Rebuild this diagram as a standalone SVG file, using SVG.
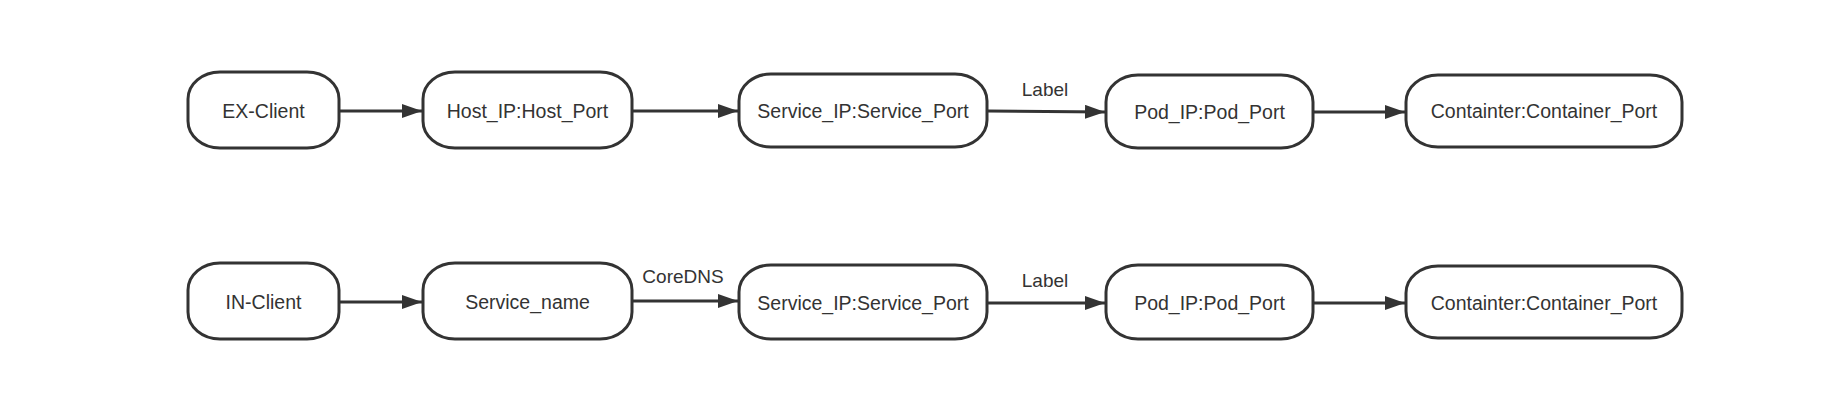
<svg xmlns="http://www.w3.org/2000/svg" width="1832" height="418" viewBox="0 0 1832 418">
<style>
.box{fill:#fff;stroke:#333;stroke-width:3}
.t{font-family:"Liberation Sans",Arial,sans-serif;font-size:19.5px;fill:#333;text-anchor:middle}
.lbl{font-family:"Liberation Sans",Arial,sans-serif;font-size:19px;fill:#333;text-anchor:middle}
.edge{fill:none;stroke:#333;stroke-width:3;marker-end:url(#ah)}
</style>
<defs>
<marker id="ah" markerUnits="userSpaceOnUse" markerWidth="20" markerHeight="14" refX="20" refY="7" orient="auto" viewBox="0 0 20 14">
<path d="M0,0 L20,7 L0,14 z" fill="#333"/>
</marker>
</defs>
<rect width="1832" height="418" fill="#fff"/>
<g id="connectors">
<line class="edge" x1="340" y1="111" x2="422" y2="111"/>
<line class="edge" x1="633" y1="111" x2="738" y2="111"/>
<line class="edge" x1="988" y1="111" x2="1105" y2="112"/>
<line class="edge" x1="1314" y1="112" x2="1405" y2="112"/>
<text class="lbl" x="1045" y="96">Label</text>
<line class="edge" x1="340" y1="302" x2="422" y2="302"/>
<line class="edge" x1="633" y1="301" x2="738" y2="301"/>
<text class="lbl" x="683" y="283">CoreDNS</text>
<line class="edge" x1="988" y1="303" x2="1105" y2="303"/>
<text class="lbl" x="1045" y="287">Label</text>
<line class="edge" x1="1314" y1="303" x2="1405" y2="303"/>
</g>
<g id="ex-client"><rect class="box" x="188" y="72" width="151" height="76" rx="32" ry="27"/><text class="t" x="263.5" y="117.5">EX-Client</text></g>
<g id="host-ip"><rect class="box" x="423" y="72" width="209" height="76" rx="32" ry="27"/><text class="t" x="527.5" y="117.5">Host_IP:Host_Port</text></g>
<g id="service-ip-1"><rect class="box" x="739" y="74" width="248" height="73" rx="32" ry="27"/><text class="t" x="863" y="117.5">Service_IP:Service_Port</text></g>
<g id="pod-ip-1"><rect class="box" x="1106" y="75" width="207" height="73" rx="32" ry="27"/><text class="t" x="1209.5" y="118.5">Pod_IP:Pod_Port</text></g>
<g id="container-1"><rect class="box" x="1406" y="75" width="276" height="72" rx="32" ry="27"/><text class="t" x="1544" y="118">Containter:Container_Port</text></g>
<g id="in-client"><rect class="box" x="188" y="263" width="151" height="76" rx="32" ry="27"/><text class="t" x="263.5" y="308.5">IN-Client</text></g>
<g id="service-name"><rect class="box" x="423" y="263" width="209" height="76" rx="32" ry="27"/><text class="t" x="527.5" y="308.5">Service_name</text></g>
<g id="service-ip-2"><rect class="box" x="739" y="265" width="248" height="74" rx="32" ry="27"/><text class="t" x="863" y="309.5">Service_IP:Service_Port</text></g>
<g id="pod-ip-2"><rect class="box" x="1106" y="265" width="207" height="74" rx="32" ry="27"/><text class="t" x="1209.5" y="309.5">Pod_IP:Pod_Port</text></g>
<g id="container-2"><rect class="box" x="1406" y="266" width="276" height="72" rx="32" ry="27"/><text class="t" x="1544" y="309.5">Containter:Container_Port</text></g>
</svg>
